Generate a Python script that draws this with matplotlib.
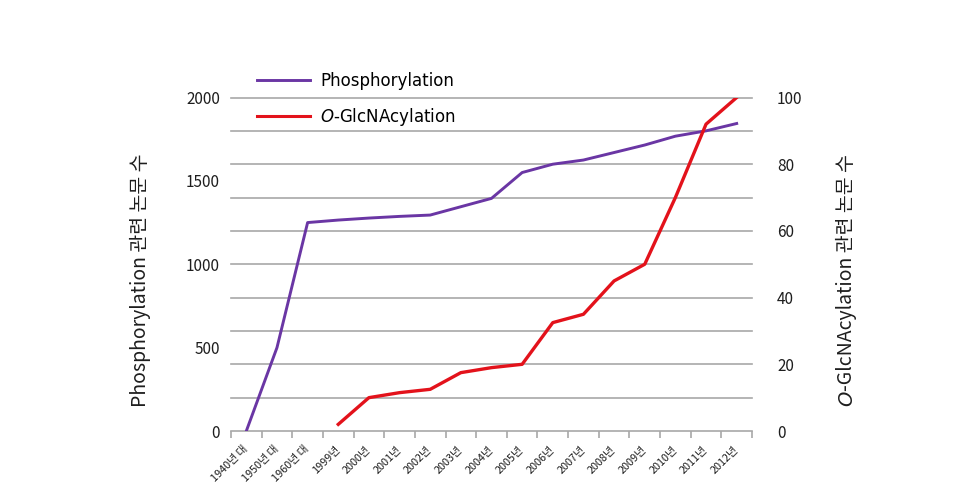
import numpy as np
import matplotlib
matplotlib.use("Agg")
import matplotlib.pyplot as plt
from matplotlib.lines import Line2D

plt.rcParams['font.family'] = ['Noto Sans CJK KR', 'DejaVu Sans']

# data
years = ['1940년 대', '1950년 대', '1960년 대', '1999년', '2000년', '2001년', '2002년',
         '2003년', '2004년', '2005년', '2006년', '2007년', '2008년', '2009년',
         '2010년', '2011년', '2012년']
phospho = [0, 500, 1250, 1265, 1277, 1287, 1295, 1345, 1395, 1550, 1600, 1625,
           1670, 1715, 1768, 1800, 1844]
glcnac_years = years[3:]
glcnac = [2, 10, 11.5, 12.5, 17.5, 19, 20, 32.5, 35, 45, 50, 70, 92, 100]

purple = '#6a36a4'
red = '#e3121b'
grid_col = '#a8a8a8'
txt_col = '#1e1e1e'

fig = plt.figure(figsize=(9.6, 4.91), dpi=100)
W, H = 960, 491
ax1 = fig.add_axes([231 / W, 1 - 431 / H, (752 - 231) / W, (431 - 97.5) / H])
ax2 = ax1.twinx()

x = np.arange(len(years))
gx = np.arange(3, len(years))

# gridlines follow the right axis (every 10)
for v in np.arange(200, 2001, 200):
    ax1.axhline(v, color=grid_col, lw=1.2, zorder=0, clip_on=False)

ax1.plot(x, phospho, color=purple, lw=2.1, zorder=3)
ax2.plot(gx, glcnac, color=red, lw=2.4, zorder=3)

ax1.set_xlim(-0.5, len(years) - 0.5)
ax1.set_ylim(0, 2000)
ax2.set_ylim(0, 100)

ax1.set_yticks([0, 500, 1000, 1500, 2000])
ax2.set_yticks([0, 20, 40, 60, 80, 100])
ax1.tick_params(axis='y', length=0, pad=8, labelsize=11, labelcolor=txt_col)
ax2.tick_params(axis='y', length=0, pad=18, labelsize=11, labelcolor=txt_col)

# ticks between categories, labels at centres
ax1.set_xticks(np.arange(-0.5, len(years), 1.0))
ax1.set_xticklabels([])
ax1.set_xticks(x, minor=True)
ax1.set_xticklabels(years, minor=True, rotation=45, ha='right', va='center',
                    rotation_mode='anchor', fontsize=7.8, color=txt_col)
ax1.tick_params(axis='x', which='major', length=5, color=grid_col, width=1.2)
ax1.tick_params(axis='x', which='minor', length=0, pad=12)

for ax in (ax1, ax2):
    for s in ('top', 'left', 'right'):
        ax.spines[s].set_visible(False)
ax1.spines['bottom'].set_color(grid_col)
ax1.spines['bottom'].set_linewidth(1.2)
ax2.spines['bottom'].set_visible(False)

handles = [Line2D([], [], color=purple, lw=2.1),
           Line2D([], [], color=red, lw=2.2)]
ax2.legend(handles, ['Phosphorylation', r'$\mathit{O}$-GlcNAcylation'],
           loc='center left', bbox_to_anchor=(257 / W, 1 - 100 / H),
           bbox_transform=fig.transFigure, frameon=False,
           borderpad=0, borderaxespad=0, handlelength=3.2, handletextpad=0.6,
           labelspacing=0.95, prop={'family': 'DejaVu Sans', 'size': 12})

fig.text(140 / W, 1 - 280 / H, 'Phosphorylation 관련 논문 수', rotation=90,
         ha='center', va='center', fontsize=14, color=txt_col)

# right label: italic O followed by the rest
fig.canvas.draw()
r = fig.canvas.get_renderer()
bx = 852 / W
t1 = fig.text(bx, 0, 'O', rotation=90, rotation_mode='anchor', ha='left',
              va='baseline', fontsize=14, color=txt_col,
              family='DejaVu Sans', style='italic')
t2 = fig.text(bx, 0, '-GlcNAcylation 관련 논문 수', rotation=90,
              rotation_mode='anchor', ha='left', va='baseline', fontsize=14,
              color=txt_col)
h1 = t1.get_window_extent(r).height
h2 = t2.get_window_extent(r).height
y0 = (H - 280) - (h1 + h2) / 2
t1.set_position((bx, y0 / H))
t2.set_position((bx, (y0 + h1) / H))

fig.savefig('out.png', dpi=100)
